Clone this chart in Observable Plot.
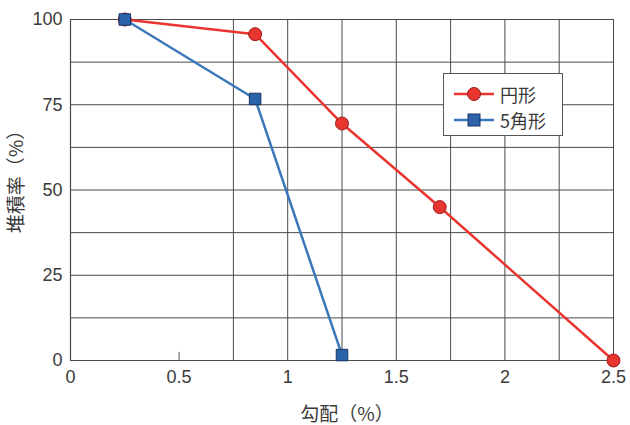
<!DOCTYPE html>
<html><head><meta charset="utf-8">
<script src="https://cdn.jsdelivr.net/npm/d3@7"></script>
<script src="https://cdn.jsdelivr.net/npm/@observablehq/plot@0.6"></script>
<style>
body{margin:0;background:#fff}
#wrap{position:relative;width:630px;height:425px}
#legend{position:absolute;left:443px;top:73px;width:118px;height:61px;border:1.5px solid #555;background:#fff;font-family:"Noto Sans CJK JP",sans-serif;font-size:18px;color:#3a3a3a}
.row{position:absolute;left:10px;display:flex;align-items:center}
.row span{margin-left:6px}
</style>
</head><body><div id="wrap"><div id="legend"></div></div>
<script>
const seriesNames = ["円形", "5角形"];
const xLabel = "勾配（%）";
const yLabel = "堆積率（%）";
const xCircle = [0.25, 0.85, 1.25, 1.7, 2.5];
const yCircle = [100, 95.7, 69.5, 45, 0];
const xPenta = [0.25, 0.85, 1.25];
const yPenta = [100, 76.7, 1.6];
const xTicks = [0, 0.5, 1, 1.5, 2, 2.5];
const yTicks = [0, 25, 50, 75, 100];
const hGrid = [12.5, 25, 37.5, 50, 62.5, 75, 87.5, 100];
const vGrid = [0.75, 1, 1.25, 1.5, 1.75, 2, 2.25, 2.5];

const red = "#e8352f", redDark = "#9a1c1c";
const blue = "#3a78b9", blueFill = "#2b63aa", blueDark = "#1a3566";
const cjk = "'Noto Sans CJK JP', sans-serif";

const circle = xCircle.map((x, i) => ({x, y: yCircle[i]}));
const penta = xPenta.map((x, i) => ({x, y: yPenta[i]}));

const chart = Plot.plot({
  width: 630, height: 425,
  marginLeft: 70, marginRight: 17, marginTop: 19, marginBottom: 65,
  style: {fontFamily: "'Liberation Sans', Arial, sans-serif", fontSize: "18px", color: "#3a3a3a", background: "#fff"},
  x: {domain: [0, 2.5]},
  y: {domain: [0, 100]},
  marks: [
    Plot.ruleY(hGrid, {stroke: "#4a4a4a", strokeWidth: 1}),
    Plot.ruleX(vGrid, {stroke: "#4a4a4a", strokeWidth: 1}),
    Plot.ruleX([0], {stroke: "#4a4a4a", strokeWidth: 1.2}),
    Plot.ruleY([0], {stroke: "#4a4a4a", strokeWidth: 1.2}),
    Plot.ruleX([0.5], {y1: 0, y2: 2.4, stroke: "#555", strokeWidth: 1}),
    Plot.axisX({ticks: xTicks, tickSize: 0, tickPadding: 10, tickFormat: d => String(d), label: null}),
    Plot.axisY({ticks: yTicks, tickSize: 0, tickPadding: 8, label: null}),
    Plot.text([xLabel], {text: d => d, frameAnchor: "bottom", textAnchor: "middle", lineAnchor: "middle", dx: 5, dy: 54, fontSize: 19, fontFamily: cjk, fill: "#3a3a3a"}),
    Plot.text([yLabel], {text: d => d, frameAnchor: "left", textAnchor: "middle", lineAnchor: "middle", dx: -54, dy: -13, rotate: -90, fontSize: 19, fontFamily: cjk, fill: "#3a3a3a"}),
    Plot.line(circle, {x: "x", y: "y", stroke: red, strokeWidth: 2.5}),
    Plot.line(penta, {x: "x", y: "y", stroke: blue, strokeWidth: 2.5}),
    Plot.dot(circle, {x: "x", y: "y", r: 6.5, fill: red, stroke: redDark, strokeWidth: 1}),
    Plot.dot(penta, {x: "x", y: "y", r: 6.5, symbol: "square", fill: blueFill, stroke: blueDark, strokeWidth: 1})
  ]
});
document.getElementById("wrap").prepend(chart);

const legend = document.getElementById("legend");
const swatches = [
  {name: seriesNames[0], line: red, fill: red, stroke: redDark, shape: "circle"},
  {name: seriesNames[1], line: blue, fill: blueFill, stroke: blueDark, shape: "square"}
];
swatches.forEach((s, i) => {
  const row = document.createElement("div");
  row.className = "row";
  row.style.top = (i === 0 ? 7 : 33) + "px";
  const shape = s.shape === "circle"
    ? `<circle cx="20" cy="10" r="6.5" fill="${s.fill}" stroke="${s.stroke}"/>`
    : `<rect x="14" y="4" width="12" height="12" fill="${s.fill}" stroke="${s.stroke}"/>`;
  row.innerHTML = `<svg width="40" height="20"><line x1="0" x2="40" y1="10" y2="10" stroke="${s.line}" stroke-width="2.5"/>${shape}</svg><span>${s.name}</span>`;
  legend.appendChild(row);
});
</script>
</body></html>
